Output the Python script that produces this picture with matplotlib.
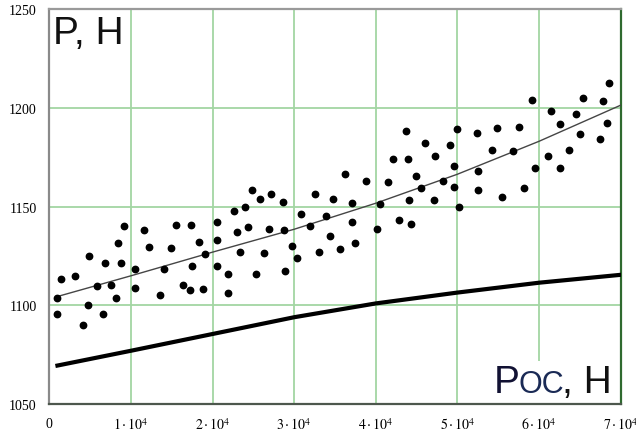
import numpy as np
import matplotlib.pyplot as plt
from matplotlib.patches import Rectangle

plt.rcParams['mathtext.fontset'] = 'stix'

# measured points P (N) vs x
pts_x = [9200, 11600, 8380, 4830, 6820, 8820, 1400, 3185, 10500, 5880,
         7595, 10500, 980, 8134, 4704, 980, 6615, 4128, 22626, 20580,
         15521, 17322, 22957, 20580, 18302, 12250, 14945, 19110, 23361, 14051,
         17481, 20580, 21891, 16342, 17273, 18865, 13561, 21891, 24868, 25774,
         27122, 28592, 32548, 34717, 23973, 30833, 33933, 24378, 26913, 28714,
         31973, 34386, 29694, 30380, 26301, 33002, 25358, 28873, 43733, 45987,
         42067, 43904, 36187, 38796, 41454, 44884, 45497, 37118, 40511, 44063,
         37081, 42875, 44308, 40107, 37448, 35648, 49980, 52357, 54807, 57538,
         49086, 47212, 54194, 56840, 49539, 52479, 48192, 49539, 52479, 58114,
         47163, 55493, 50152, 68563, 59168, 65415, 67792, 61422, 64558, 62561,
         68355, 64974, 67461, 63627, 61054, 59462, 62598]
pts_y = [1140.0, 1138.2, 1131.8, 1124.9, 1121.5, 1121.5, 1113.2, 1114.9, 1118.4, 1110.0,
         1110.2, 1108.8, 1103.9, 1103.6, 1100.0, 1095.6, 1095.6, 1090.2, 1147.6, 1142.3,
         1140.8, 1140.5, 1137.4, 1133.3, 1132.3, 1129.4, 1129.1, 1126.2, 1127.3, 1118.4,
         1119.9, 1119.9, 1115.9, 1110.2, 1107.8, 1108.3, 1105.2, 1106.4, 1158.4, 1153.8,
         1156.5, 1152.4, 1156.7, 1153.7, 1149.9, 1146.5, 1145.3, 1139.7, 1138.7, 1138.4,
         1140.1, 1135.2, 1130.1, 1124.0, 1126.5, 1127.3, 1116.1, 1117.6, 1188.2, 1182.4,
         1174.3, 1174.0, 1166.5, 1162.9, 1162.6, 1165.6, 1159.7, 1151.8, 1151.6, 1153.5,
         1142.1, 1143.5, 1141.1, 1138.7, 1131.6, 1128.6, 1189.2, 1187.5, 1189.8, 1190.2,
         1181.1, 1175.6, 1179.0, 1178.5, 1170.6, 1167.9, 1162.9, 1159.9, 1158.5, 1159.5,
         1153.5, 1154.8, 1150.1, 1212.7, 1204.1, 1205.2, 1203.4, 1198.3, 1197.1, 1191.9,
         1192.4, 1186.8, 1184.3, 1178.8, 1175.6, 1169.4, 1169.5]

# fitted curve through the points
fit_x = [1000, 10000, 20000, 30000, 40000, 50000, 60000, 70000]
fit_y = [1104.5, 1115, 1127, 1138.6, 1151.8, 1166.5, 1183.2, 1201.5]

# P_oc curve
poc_x = [1000, 10000, 20000, 30000, 40000, 50000, 60000, 70000]
poc_y = [1069.5, 1077, 1085.5, 1094, 1101, 1106.5, 1111.5, 1115.5]

xticks = [0, 10000, 20000, 30000, 40000, 50000, 60000, 70000]
xtick_labels = ['0', r'$1\cdot10^{4}$', r'$2\cdot10^{4}$', r'$3\cdot10^{4}$',
                r'$4\cdot10^{4}$', r'$5\cdot10^{4}$', r'$6\cdot10^{4}$', r'$7\cdot10^{4}$']
yticks = [1050, 1100, 1150, 1200, 1250]

fig = plt.figure(figsize=(6.36, 4.39), dpi=100)
ax = fig.add_axes([0.0775, 0.0774, 0.8985, 0.8987])

ax.plot(fit_x, fit_y, color='#454545', lw=1.0, zorder=3)
ax.plot(poc_x, poc_y, color='black', lw=3.0, zorder=3)
ax.plot(pts_x, pts_y, 'o', color='black', ms=4.6, zorder=4)

ax.set_xlim(0, 70000)
ax.set_ylim(1050, 1250)
ax.set_xticks(xticks)
ax.set_xticklabels(xtick_labels)
ax.set_yticks(yticks)
ax.tick_params(length=0, labelsize=10)
ax.tick_params(axis='x', pad=9)
ax.tick_params(axis='y', pad=9)
for lab in ax.get_xticklabels() + ax.get_yticklabels():
    lab.set_fontfamily('Liberation Serif')

ax.grid(True, color='#a3d6a3', lw=1.3, zorder=1)
ax.set_axisbelow(True)

ax.spines['left'].set_color('#8a8a8a')
ax.spines['top'].set_color('#9a9a9a')
ax.spines['bottom'].set_color('#4d574d')
ax.spines['right'].set_color('#2f6a2f')
for s in ax.spines.values():
    s.set_linewidth(1.6)

# axis captions
ax.text(0.006, 0.985, 'P, H', transform=ax.transAxes, ha='left', va='top',
        fontsize=28, family='Liberation Sans', color='#111111', zorder=2,
        bbox=dict(facecolor='white', edgecolor='none', pad=3))
ax.add_patch(Rectangle((0.77, 0.003), 0.228, 0.105, transform=ax.transAxes,
                       facecolor='white', edgecolor='none', zorder=2))
ax.text(0.778, 0.03, 'P', transform=ax.transAxes, ha='left', va='baseline',
        fontsize=28, family='Liberation Sans', color='#111133', zorder=5)
ax.text(0.821, 0.03, 'OC', transform=ax.transAxes, ha='left', va='baseline',
        fontsize=22, family='Liberation Sans', color='#1a2a55', zorder=5)
ax.text(0.897, 0.03, ', H', transform=ax.transAxes, ha='left', va='baseline',
        fontsize=28, family='Liberation Sans', color='#111111', zorder=5)

fig.savefig('out.png', dpi=100)
